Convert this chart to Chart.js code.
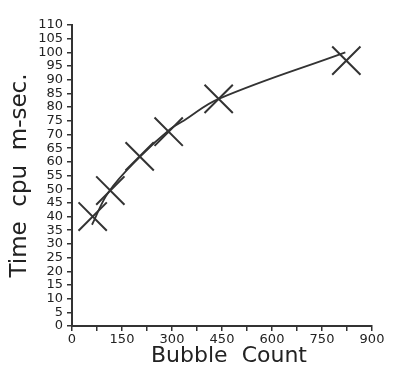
<!DOCTYPE html>
<html>
<head>
<meta charset="utf-8">
<script src="https://cdn.jsdelivr.net/npm/chart.js@4"></script>
<style>
  html, body { margin: 0; padding: 0; background: #fff; }
</style>
</head>
<body>
<canvas id="chart" width="394" height="365"></canvas>
<script>
// measured runs (crosses)
const bubbleCounts = [62, 115, 203, 290, 440, 823];
const cpuTimes = [40, 49.5, 62, 71, 83, 97];

// fitted curve drawn through the runs
const fitCounts = [60, 110, 205, 295, 335, 440, 820];
const fitTimes = [37, 49, 62, 72, 75, 83, 100];

const xTicks = [0, 150, 300, 450, 600, 750, 900];

const ink = "#333";
const ctx = document.getElementById("chart").getContext("2d");

new Chart(ctx, {
  type: "scatter",
  data: {
    datasets: [
      {
        label: "runs",
        data: bubbleCounts.map((x, i) => ({ x, y: cpuTimes[i] })),
        pointStyle: "crossRot",
        pointRadius: 20,
        borderColor: ink,
        borderWidth: 2,
        showLine: false,
      },
      {
        label: "fit",
        type: "line",
        data: fitCounts.map((x, i) => ({ x, y: fitTimes[i] })),
        borderColor: ink,
        borderWidth: 1.8,
        pointRadius: 0,
        tension: 0.4,
        fill: false,
      },
    ],
  },
  options: {
    responsive: false,
    animation: false,
    events: [],
    layout: { padding: { top: 25, right: 13, left: 0, bottom: 0 } },
    plugins: { legend: { display: false }, tooltip: { enabled: false } },
    scales: {
      x: {
        type: "linear",
        min: 0,
        max: 900,
        afterFit: (scale) => { scale.height = 39; },
        border: { color: ink, width: 2 },
        grid: { drawOnChartArea: false, color: ink, tickLength: 5, lineWidth: 1.5 },
        ticks: {
          stepSize: 75,
          autoSkip: false,
          maxRotation: 0,
          padding: 1,
          color: "#222",
          font: { family: "DejaVu Sans", size: 13 },
          callback: (v) => (xTicks.includes(v) ? v : ""),
        },
        title: {
          display: true,
          text: "  Bubble  Count",
          color: "#222",
          padding: 0,
          font: { family: "DejaVu Sans", size: 22, lineHeight: 0.8 },
        },
      },
      y: {
        min: 0,
        max: 110,
        afterFit: (scale) => { scale.width = 72; },
        border: { color: ink, width: 2 },
        grid: { drawOnChartArea: false, color: ink, tickLength: 5, lineWidth: 1.5 },
        ticks: {
          stepSize: 5,
          autoSkip: false,
          padding: 4,
          color: "#222",
          font: { family: "DejaVu Sans", size: 13, lineHeight: 1 },
        },
        title: {
          display: true,
          text: "Time  cpu  m-sec.",
          color: "#222",
          padding: { top: 6, bottom: 0 },
          font: { family: "DejaVu Sans", size: 23 },
        },
      },
    },
  },
});
</script>
</body>
</html>
